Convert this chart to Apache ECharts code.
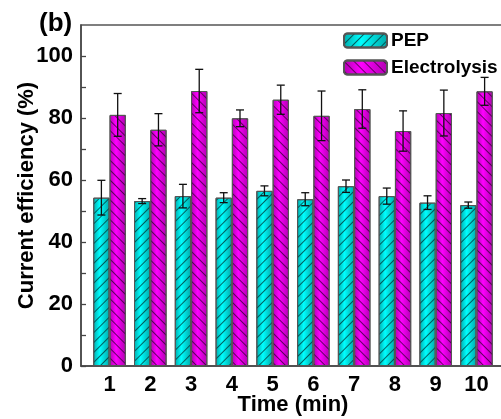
<!DOCTYPE html>
<html><head><meta charset="utf-8">
<script src="https://cdn.jsdelivr.net/npm/echarts@6/dist/echarts.min.js"></script>
<style>html,body{margin:0;padding:0;background:#fff}#c{width:501px;height:419px}</style>
</head><body><div id="c"></div>
<script>
const times = [1,2,3,4,5,6,7,8,9,10];
const pepValues = [54.3,53.2,54.8,54.3,56.5,53.8,58.0,54.8,52.7,51.9];
const pepErrors = [5.6,0.8,3.8,1.6,1.6,2.1,2.0,2.6,2.2,1.0];
const elecValues = [81.0,76.2,88.7,79.9,85.9,80.7,82.9,75.8,81.6,88.6];
const elecErrors = [6.9,5.2,7.0,2.7,4.7,8.0,6.2,6.5,7.4,4.5];
const yTickLabels = [0,20,40,60,80,100];
const yMinorTicks = [0,10,20,30,40,50,60,70,80,90,100];

const FONT = 'Arial, "Liberation Sans", sans-serif';
const BW = 16.3;
const chart = echarts.init(document.getElementById('c'));

function grad(dark, bright){
  return new echarts.graphic.LinearGradient(0,0,1,0,[
    {offset:0,color:dark},{offset:0.4,color:bright},{offset:1,color:dark}]);
}
const pepColor = grad('#00a8a8','#00ffff');
const elecColor = grad('#b000b0','#ff00ff');
const pepDecal = {symbol:'rect',symbolSize:1,dashArrayX:[1,0],dashArrayY:[1,6],rotation:-Math.PI/4,color:'rgba(0,40,40,0.7)'};
const elecDecal = {symbol:'rect',symbolSize:1,dashArrayX:[1,0],dashArrayY:[1,6],rotation:Math.PI/4,color:'rgba(40,0,40,0.7)'};

function errSeries(vals, errs, sign, name){
  return {
    type:'custom', name:name+'err', silent:true, z:5,
    data: times.map((t,i)=>[t, vals[i], errs[i]]),
    renderItem:function(params, api){
      const x = api.value(0), v = api.value(1), e = api.value(2);
      const top = api.coord([x, v+e]);
      const bot = api.coord([x, v-e]);
      const cx = top[0] + sign*BW/2;
      const cap = 4;
      const st = {stroke:'#111', lineWidth:1.3};
      return {type:'group', children:[
        {type:'line', shape:{x1:cx,y1:top[1],x2:cx,y2:bot[1]}, style:st},
        {type:'line', shape:{x1:cx-cap,y1:top[1],x2:cx+cap,y2:top[1]}, style:st},
        {type:'line', shape:{x1:cx-cap,y1:bot[1],x2:cx+cap,y2:bot[1]}, style:st}
      ]};
    }
  };
}

chart.setOption({
  animation:false,
  grid:{left:81, top:25, bottom:53, width:424, containLabel:false, outerBoundsMode:'none',
        show:true, borderColor:'#555', borderWidth:1.5},
  legend:{
    left:343, top:31, orient:'vertical', itemWidth:43, itemHeight:14, itemGap:8, padding:0,
    textStyle:{fontFamily:FONT, fontWeight:'bold', fontSize:19, color:'#000', padding:[0,0,0,-1]},
    data:['PEP','Electrolysis']
  },
  graphic:[{type:'text', left:39, top:11, style:{text:'(b)', font:'bold 26px '+FONT, fill:'#000'}}],
  xAxis:{
    type:'value', min:0.3, max:10.7, name:'Time (min)', nameLocation:'middle', nameGap:28, nameMoveOverlap:false,
    nameTextStyle:{fontFamily:FONT, fontWeight:'bold', fontSize:22, color:'#000'},
    axisLine:{lineStyle:{color:'#444', width:1.5}},
    axisTick:{show:false}, splitLine:{show:false},
    axisLabel:{customValues:times, fontFamily:FONT, fontWeight:'bold', fontSize:22, color:'#000', margin:8}
  },
  yAxis:{
    type:'value', min:0, max:110, name:'Current efficiency (%)', nameLocation:'middle', nameGap:43, nameMoveOverlap:false,
    nameTextStyle:{fontFamily:FONT, fontWeight:'bold', fontSize:22, color:'#000'},
    axisLine:{show:true, lineStyle:{color:'#444', width:1.5}},
    axisTick:{show:true, inside:true, length:5, customValues:yMinorTicks, lineStyle:{color:'#444', width:1.3}},
    splitLine:{show:false},
    axisLabel:{customValues:yTickLabels, fontFamily:FONT, fontWeight:'bold', fontSize:22, color:'#000', margin:8}
  },
  series:[
    {type:'bar', name:'PEP', barWidth:BW, barGap:'0%',
     data: times.map((t,i)=>[t, pepValues[i]]),
     itemStyle:{color:pepColor, borderColor:'#555', borderWidth:1, decal:pepDecal}},
    {type:'bar', name:'Electrolysis', barWidth:BW, barGap:'0%',
     data: times.map((t,i)=>[t, elecValues[i]]),
     itemStyle:{color:elecColor, borderColor:'#555', borderWidth:1, decal:elecDecal}},
    errSeries(pepValues, pepErrors, -1, 'PEP'),
    errSeries(elecValues, elecErrors, 1, 'Electrolysis')
  ]
});
</script></body></html>
